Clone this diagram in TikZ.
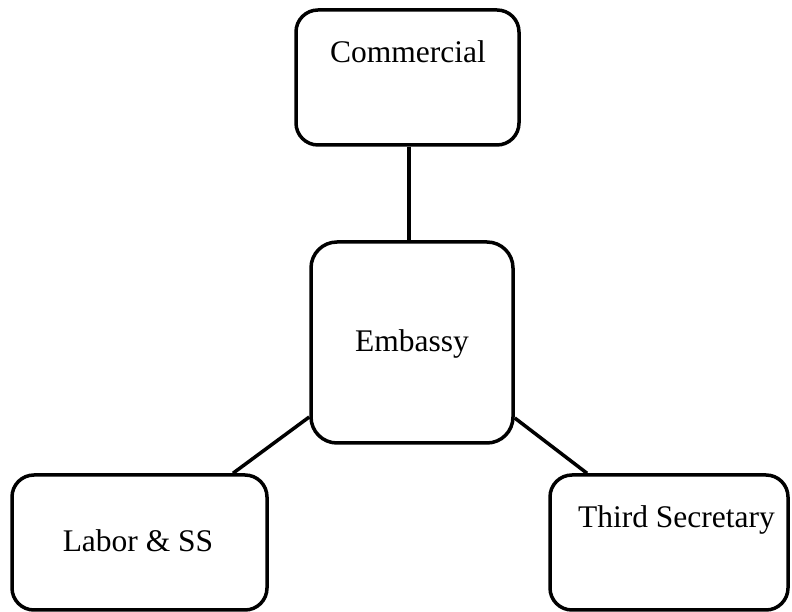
\documentclass[tikz,border=0pt]{standalone}
\usepackage{fontspec}
\setmainfont{Liberation Serif}
\begin{document}
\begin{tikzpicture}[x=1pt,y=1pt,
  box/.style={draw=black, line width=3.5pt, rounded corners=22pt, fill=white, inner sep=0pt},
  lbl/.style={anchor=base, inner sep=0pt, font=\fontsize{31.5}{36}\selectfont},
  link/.style={draw=black, line width=3.5pt}]
\useasboundingbox (0,0) rectangle (792,612);
% boxes
\node[box, minimum width=223pt, minimum height=135pt] (com) at (407.5,534.5) {};
\node[box, rounded corners=26pt, minimum width=202pt, minimum height=201pt] (emb) at (412,269.5) {};
\node[box, minimum width=255pt, minimum height=135pt] (lab) at (139.5,69.5) {};
\node[box, minimum width=238pt, minimum height=135pt] (thr) at (669,69.5) {};
% texts
\node[lbl] (tcom) at (408,549) {Commercial};
\node[lbl] (temb) at (412,260) {Embassy};
\node[lbl] (tlab) at (138,60) {Labor \& SS};
\node[lbl] (tthr) at (676.5,84) {Third Secretary};
% connectors
\draw[link] ([xshift=1.5pt]com.south) -- ([xshift=-3pt]emb.north);
\draw[link] ([yshift=-74.5pt]emb.west) -- ([xshift=93.5pt]lab.north);
\draw[link] ([yshift=-75.5pt]emb.east) -- ([xshift=-82pt]thr.north);
\end{tikzpicture}
\end{document}
